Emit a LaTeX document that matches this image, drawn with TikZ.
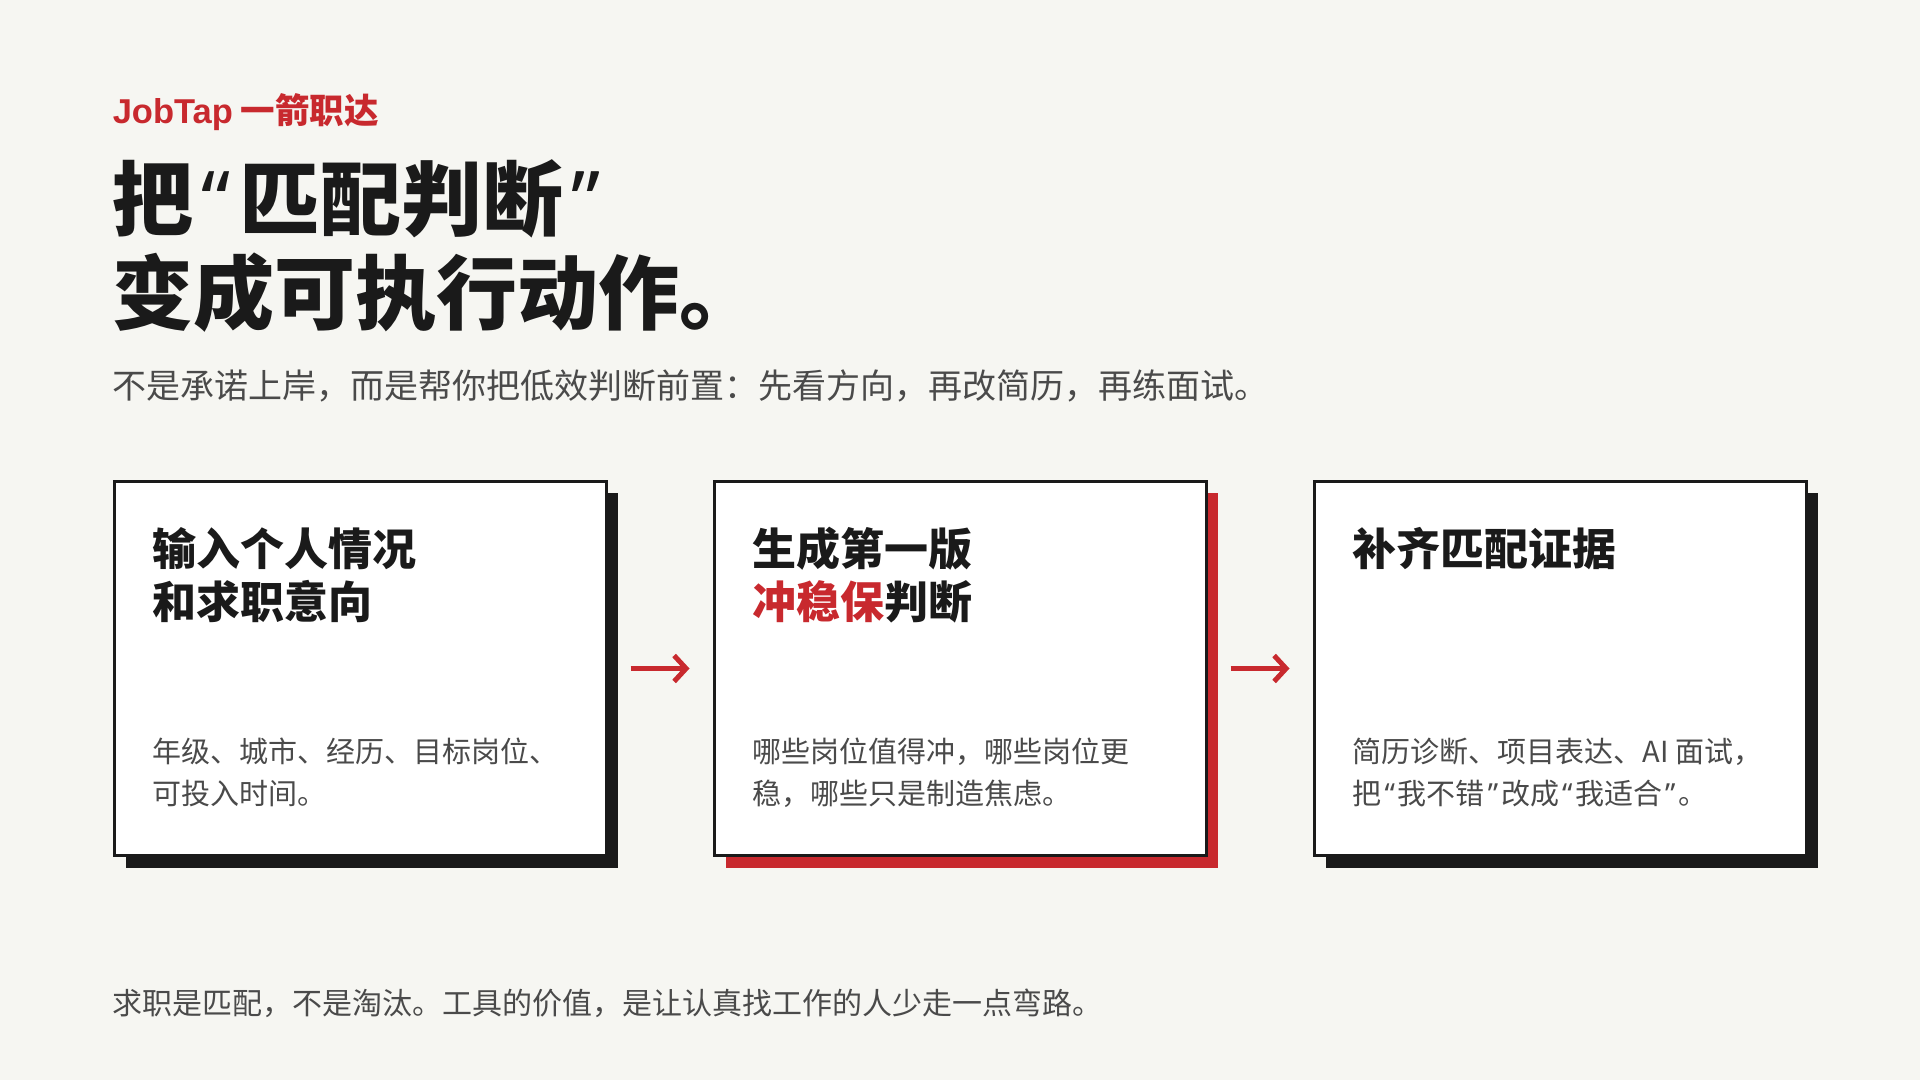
\documentclass[tikz,border=0pt]{standalone}
\usepackage{fontspec}
\setmainfont{Noto Sans CJK SC}
\newfontfamily\latinq{Noto Sans}
\newfontfamily\brandlatin{Liberation Sans}
\newcommand\qo{\kern.1em{\latinq “}\kern.1em}
\newcommand\qc{\kern.1em{\latinq ”}\kern.1em}
\usepackage{tikz}
\usetikzlibrary{positioning, arrows.meta, shadows}
\definecolor{paper}{HTML}{F6F6F2}
\definecolor{ink}{HTML}{1A1A1A}
\definecolor{accent}{HTML}{C8292E}
\definecolor{muted}{HTML}{4A4A4A}

\begin{document}
\begin{tikzpicture}[x=1pt, y=1pt, node distance=600pt, on grid,
    card/.style={draw=ink, line width=3pt, fill=white, minimum width=492pt, minimum height=374pt, inner sep=0pt},
    ink shade/.style={drop shadow={shadow xshift=12pt, shadow yshift=-12pt, fill=ink, opacity=1}},
    red shade/.style={drop shadow={shadow xshift=12pt, shadow yshift=-12pt, fill=accent, opacity=1}},
    head/.style={anchor=north west, inner sep=0pt, align=left, xshift=40pt, yshift=-47pt, font=\fontsize{44}{53}\selectfont\bfseries, text=ink},
    body/.style={anchor=north west, inner sep=0pt, align=left, xshift=40pt, yshift=-258pt, font=\fontsize{29}{41.7}\selectfont, text=muted},
    line/.style={anchor=base west, inner sep=0pt},
    flow/.style={draw=accent, line width=5pt, -{Straight Barb[length=12pt, width=26pt]}, shorten <=23pt, shorten >=23pt}]

    \fill[paper] (0,0) rectangle (1920,1080);

    \node[line, font=\fontsize{34.5}{40}\selectfont\bfseries, text=accent] (brand) at (112.6,956) {{\brandlatin JobTap} 一箭职达};
    \node[anchor=north west, inner sep=0pt, align=left, font=\fontsize{81}{94}\selectfont\bfseries, text=ink] (headline) at (112.6,921) {把\qo 匹配判断\qc\\变成可执行动作。};
    \node[line, font=\fontsize{34}{40}\selectfont, text=muted] (lede) at (112.6,681) {不是承诺上岸，而是帮你把低效判断前置：先看方向，再改简历，再练面试。};

    \node[card, ink shade] (intake) at (360,411.5) {};
    \node[card, red shade, right=of intake] (draft) {};
    \node[card, ink shade, right=of draft] (evidence) {};

    \node[head] (intake head) at (intake.north west) {输入个人情况\\和求职意向};
    \node[body] (intake body) at (intake.north west) {年级、城市、经历、目标岗位、\\可投入时间。};
    \node[head] (draft head) at (draft.north west) {生成第一版\\\textcolor{accent}{冲稳保}判断};
    \node[body] (draft body) at (draft.north west) {哪些岗位值得冲，哪些岗位更\\稳，哪些只是制造焦虑。};
    \node[head] (evidence head) at (evidence.north west) {补齐匹配证据};
    \node[body] (evidence body) at (evidence.north west) {简历诊断、项目表达、AI 面试，\\把\qo 我不错\qc 改成\qo 我适合\qc 。};

    \path[flow]
        (intake) edge (draft)
        (draft) edge (evidence);

    \node[line, font=\fontsize{30}{36}\selectfont, text=muted] (closing) at (112.6,66) {求职是匹配，不是淘汰。工具的价值，是让认真找工作的人少走一点弯路。};
\end{tikzpicture}
\end{document}
